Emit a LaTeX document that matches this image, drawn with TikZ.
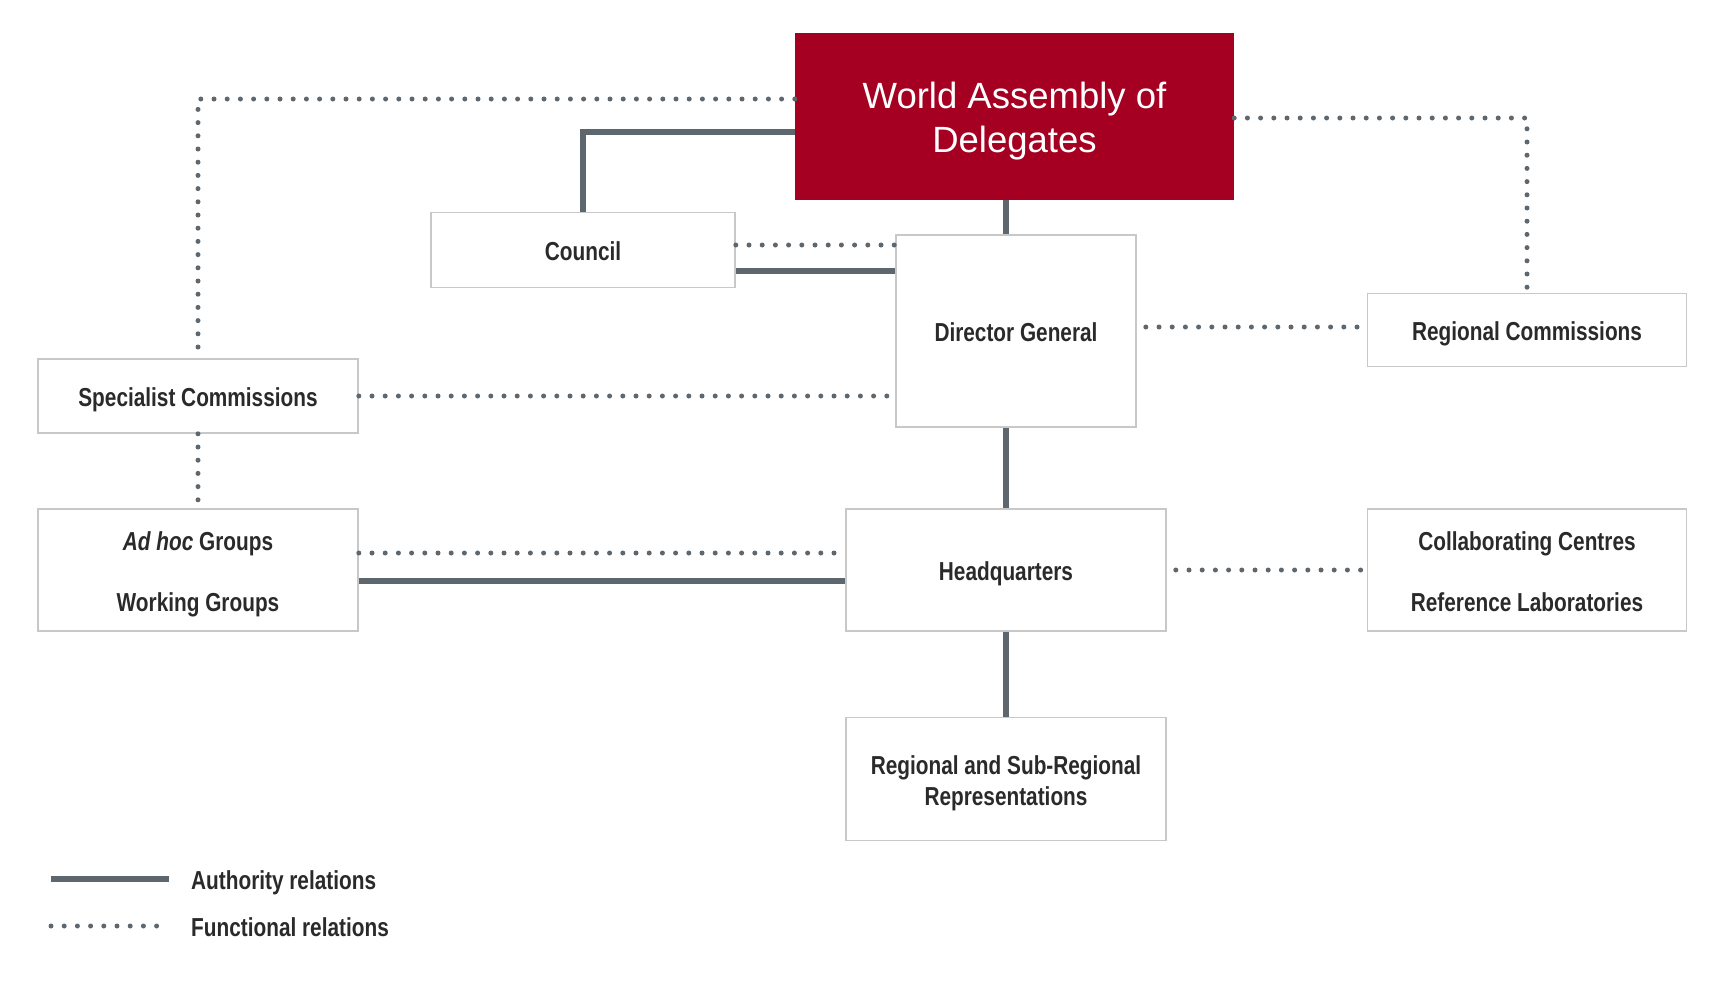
\documentclass[tikz,border=0pt]{standalone}
\usepackage{fontspec}
\setmainfont{Liberation Sans}
\newfontfamily\condfont[FakeStretch=0.8]{Liberation Sans}
\usetikzlibrary{calc}
\definecolor{oiered}{HTML}{A50021}
\definecolor{linegray}{HTML}{5E676E}
\definecolor{boxgray}{HTML}{C8C8C8}
\definecolor{txtgray}{HTML}{2A2A2A}
\newcommand\tstr{\rule{0pt}{27pt}}
\newcommand\bstr{\rule[-6pt]{0pt}{6pt}}
\begin{document}
\begin{tikzpicture}[x=1pt,y=-1pt,
  orgbox/.style={draw=boxgray, line width=1.6pt, fill=white, inner sep=0pt, text=txtgray,
    font=\condfont\bfseries\fontsize{26}{31}\selectfont, align=center},
  wabox/.style={fill=oiered, inner sep=0pt, text=white, align=center,
    font=\fontsize{36.5}{44}\selectfont},
  auth/.style={draw=linegray, line width=5.5pt},
  func/.style={draw=linegray, line width=5pt, line cap=round, dash pattern=on 0pt off 13.2pt},
  legtext/.style={inner sep=0pt, text=txtgray, font=\condfont\bfseries\fontsize{26}{31}\selectfont, anchor=west}
]
\useasboundingbox[fill=white] (0,0) rectangle (1726,991);

% nodes
\node[wabox, minimum width=439pt, minimum height=167pt] (wa) at (1014.5,116.5) {\rule{0pt}{36pt}World Assembly of\\Delegates\rule[-8pt]{0pt}{8pt}};
\node[orgbox, minimum width=304pt, minimum height=75pt] (council) at (583,250) {\tstr Council\bstr};
\node[orgbox, minimum width=240pt, minimum height=192pt] (dg) at (1016,331) {\tstr Director General\bstr};
\node[orgbox, minimum width=319pt, minimum height=73pt] (rc) at (1527,330) {\tstr Regional Commissions\bstr};
\node[orgbox, minimum width=320pt, minimum height=74pt] (spec) at (198,396) {\tstr Specialist Commissions\bstr};
\node[orgbox, minimum width=320pt, minimum height=122pt] (adhoc) at (198,570) {\tstr{\itshape Ad hoc} Groups\\[30pt]Working Groups\bstr};
\node[orgbox, minimum width=320pt, minimum height=122pt] (hq) at (1006,570) {\tstr Headquarters\bstr};
\node[orgbox, minimum width=319pt, minimum height=122pt] (collab) at (1527,570) {\tstr Collaborating Centres\\[30pt]Reference Laboratories\bstr};
\node[orgbox, minimum width=320pt, minimum height=123pt] (rsr) at (1006,779) {\tstr Regional and Sub-Regional\\Representations\bstr};

% connectors
\draw[func] (wa.west |- 0,99) -| (spec.north);
\draw[auth] (wa.west |- 0,132) -| (council.north);
\draw[func] (wa.east |- 0,118) -| (rc.north);
\draw[auth] (wa.south -| hq.center) -- (dg.north -| hq.center);
\draw[func] (council.east |- 0,245) -- (dg.west |- 0,245);
\draw[auth] (council.east |- 0,271) -- (dg.west |- 0,271);
\draw[func] ($(dg.east |- rc.west)+(9,-3)$) -- ($(rc.west)+(0,-3)$);
\draw[func] (spec.east) -- (dg.west |- spec.east);
\draw[func] (spec.south) -- (adhoc.north);
\draw[auth] (dg.south -| hq.center) -- (hq.north);
\draw[func] (adhoc.east |- 0,553) -- (hq.west |- 0,553);
\draw[auth] (adhoc.east |- 0,581) -- (hq.west |- 0,581);
\draw[func] ($(hq.east)+(9,0)$) -- (collab.west);
\draw[auth] (hq.south) -- (rsr.north);

% legend
\coordinate (la1) at (51,879); \coordinate (la2) at (169,879);
\coordinate (lf1) at (51,926); \coordinate (lf2) at (169,926);
\draw[auth] (la1) -- (la2);
\draw[func] (lf1) -- (lf2);
\node[legtext] (lat) at (191,879) {\tstr Authority relations\bstr};
\node[legtext] (lft) at (191,926) {\tstr Functional relations\bstr};
\end{tikzpicture}
\end{document}
